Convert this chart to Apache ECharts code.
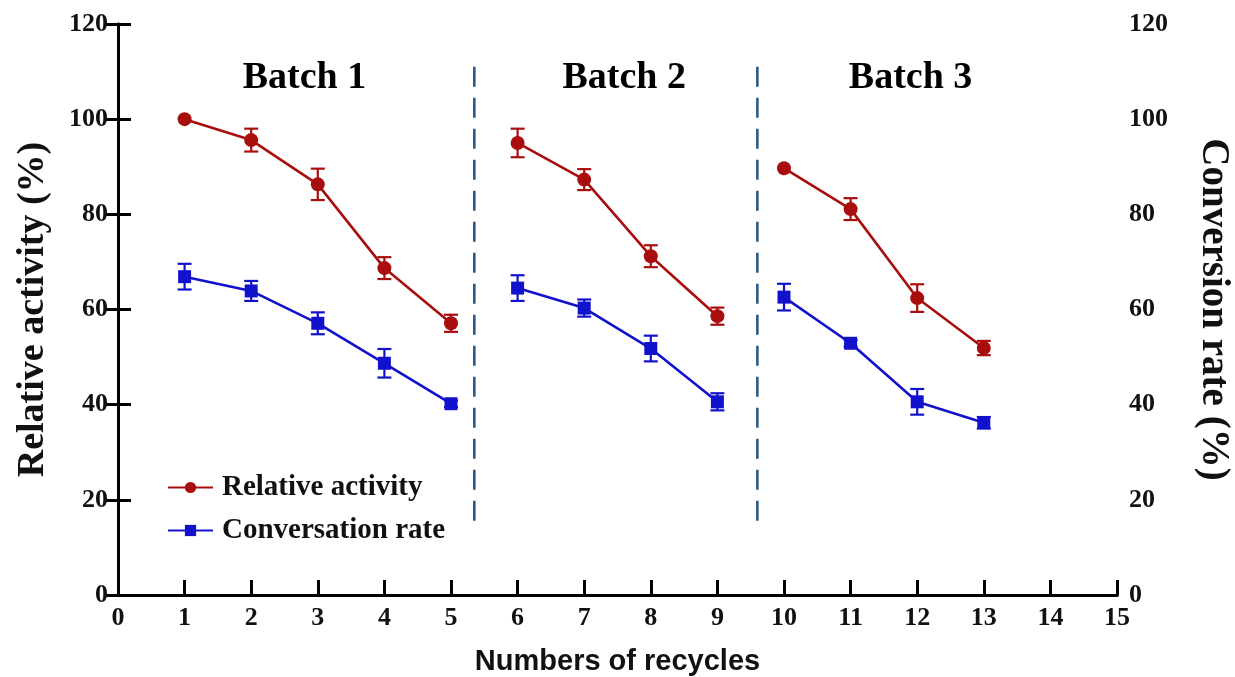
<!DOCTYPE html>
<html><head><meta charset="utf-8">
<script src="https://cdn.jsdelivr.net/npm/echarts@6/dist/echarts.min.js"></script>
<style>html,body{margin:0;padding:0;background:#fff}#c{width:1235px;height:677px}</style>
</head><body><div id="c"></div>
<script>
const cycles = [1,2,3,4,5,6,7,8,9,10,11,12,13];
const batchOf = [1,1,1,1,1,2,2,2,2,3,3,3,3];
const activity = [100,95.6,86.3,68.7,57.1,95.0,87.3,71.2,58.6,89.7,81.1,62.4,51.9];
const activityErr = [0,2.4,3.3,2.3,1.8,3.0,2.2,2.3,1.8,0,2.3,2.9,1.5];
const conversion = [66.9,63.9,57.1,48.7,40.2,64.5,60.3,51.8,40.6,62.6,52.9,40.6,36.2];
const conversionErr = [2.7,2.1,2.3,3.0,0.7,2.7,1.8,2.7,1.8,2.8,0.7,2.7,1.2];
const separators = [5.35, 9.6];
const separatorRange = [111, 13.7];
const batchNames = ['Batch 1','Batch 2','Batch 3'];
const batchLabelX = [2.8, 7.6, 11.9];
const batchLabelY = 108.6;

const RED = '#a90e0e', BLUE = '#1212cc', SEP = '#2c5b85';
const SERIF = '"Liberation Serif","Times New Roman",serif';

function segs(vals){
  const out = [];
  cycles.forEach((c,i)=>{
    if(i>0 && batchOf[i]!==batchOf[i-1]) out.push([ (cycles[i-1]+c)/2, '-']);
    out.push([c, vals[i]]);
  });
  return out;
}
function errData(vals, errs){ return cycles.map((c,i)=>[c, vals[i], errs[i]]); }
function errRender(color){
  return function(params, api){
    const x = api.value(0), y = api.value(1), e = api.value(2);
    if(!e) return null;
    const t = api.coord([x, y+e]), b = api.coord([x, y-e]);
    const cap = 7, st = {stroke: color, lineWidth: 2.2};
    return {type:'group', children:[
      {type:'line', shape:{x1:t[0],y1:t[1],x2:b[0],y2:b[1]}, style:st},
      {type:'line', shape:{x1:t[0]-cap,y1:t[1],x2:t[0]+cap,y2:t[1]}, style:st},
      {type:'line', shape:{x1:b[0]-cap,y1:b[1],x2:b[0]+cap,y2:b[1]}, style:st}
    ]};
  };
}

const tickLabel = {fontFamily: SERIF, fontWeight:'bold', fontSize: 26, color:'#111'};
const axisLine = {show:true, lineStyle:{color:'#000', width:3}};

const series = [
  {name:'Relative activity', type:'line', data: segs(activity), connectNulls:false,
   symbol:'circle', symbolSize:14, itemStyle:{color:RED}, lineStyle:{color:RED, width:2.6}, z:5},
  {name:'Conversation rate', type:'line', yAxisIndex:1, data: segs(conversion), connectNulls:false,
   symbol:'rect', symbolSize:13, itemStyle:{color:BLUE}, lineStyle:{color:BLUE, width:2.6}, z:5},
  {name:'errA', type:'custom', renderItem: errRender(RED), data: errData(activity, activityErr), z:6},
  {name:'errC', type:'custom', yAxisIndex:1, renderItem: errRender(BLUE), data: errData(conversion, conversionErr), z:6},
  {name:'batches', type:'scatter', symbolSize:1, silent:true, itemStyle:{opacity:1, color:'rgba(0,0,0,0)'},
   data: batchNames.map((n,i)=>({value:[batchLabelX[i], batchLabelY], name:n})),
   label:{show:true, position:'inside', formatter: p=>p.name, fontFamily:SERIF, fontWeight:'bold', fontSize:38, color:'#000', opacity:1}}
];
separators.forEach((s,i)=>{
  series.push({name:'sep'+i, type:'line', silent:true, symbol:'none',
    data:[[s, separatorRange[0]],[s, separatorRange[1]]],
    lineStyle:{color:SEP, width:2.6, type:[20,11]}, z:2});
});

const chart = echarts.init(document.getElementById('c'), null, {renderer:'canvas'});
chart.setOption({
  animation:false,
  grid:{left:118, right:118, top:24, bottom:82, containLabel:false, outerBoundsMode:'none'},
  legend:{data:['Relative activity','Conversation rate'], orient:'vertical', left:162, top:468,
    itemWidth:45, itemHeight:14, itemGap:14,
    textStyle:{fontFamily:SERIF, fontWeight:'bold', fontSize:29, color:'#111', padding:[0,0,0,4]}},
  xAxis:[
    {type:'value', min:0, max:15, interval:1, position:'bottom',
     name:'Numbers of recycles', nameLocation:'middle', nameGap:52,
     nameTextStyle:{fontFamily:'"Liberation Sans",Arial,sans-serif', fontWeight:'bold', fontSize:29, color:'#111'},
     axisLine: axisLine, axisTick:{show:true, inside:true, length:15, lineStyle:{width:3, color:'#000'}},
     axisLabel:{...tickLabel, margin:10}, splitLine:{show:false}},
    {type:'value', min:0, max:15, position:'top', axisLine: axisLine,
     axisTick:{show:false}, axisLabel:{show:false}, splitLine:{show:false}}
  ],
  yAxis:[
    {type:'value', min:0, max:120, interval:20, position:'left',
     name:'Relative activity (%)', nameLocation:'middle', nameGap:66,
     nameTextStyle:{fontFamily:SERIF, fontWeight:'bold', fontSize:38, color:'#111'},
     axisLine: axisLine, axisTick:{show:true, inside:true, length:13, lineStyle:{width:3, color:'#000'}},
     axisLabel:{...tickLabel, margin:10}, splitLine:{show:false}},
    {type:'value', min:0, max:120, interval:20, position:'right',
     name:'Conversion rate (%)', nameLocation:'middle', nameGap:77, nameRotate:-90,
     nameTextStyle:{fontFamily:SERIF, fontWeight:'bold', fontSize:39, color:'#111'},
     axisLine: axisLine, axisTick:{show:true, inside:true, length:13, lineStyle:{width:3, color:'#000'}},
     axisLabel:{...tickLabel, margin:12}, splitLine:{show:false}}
  ],
  series: series
});
</script></body></html>
